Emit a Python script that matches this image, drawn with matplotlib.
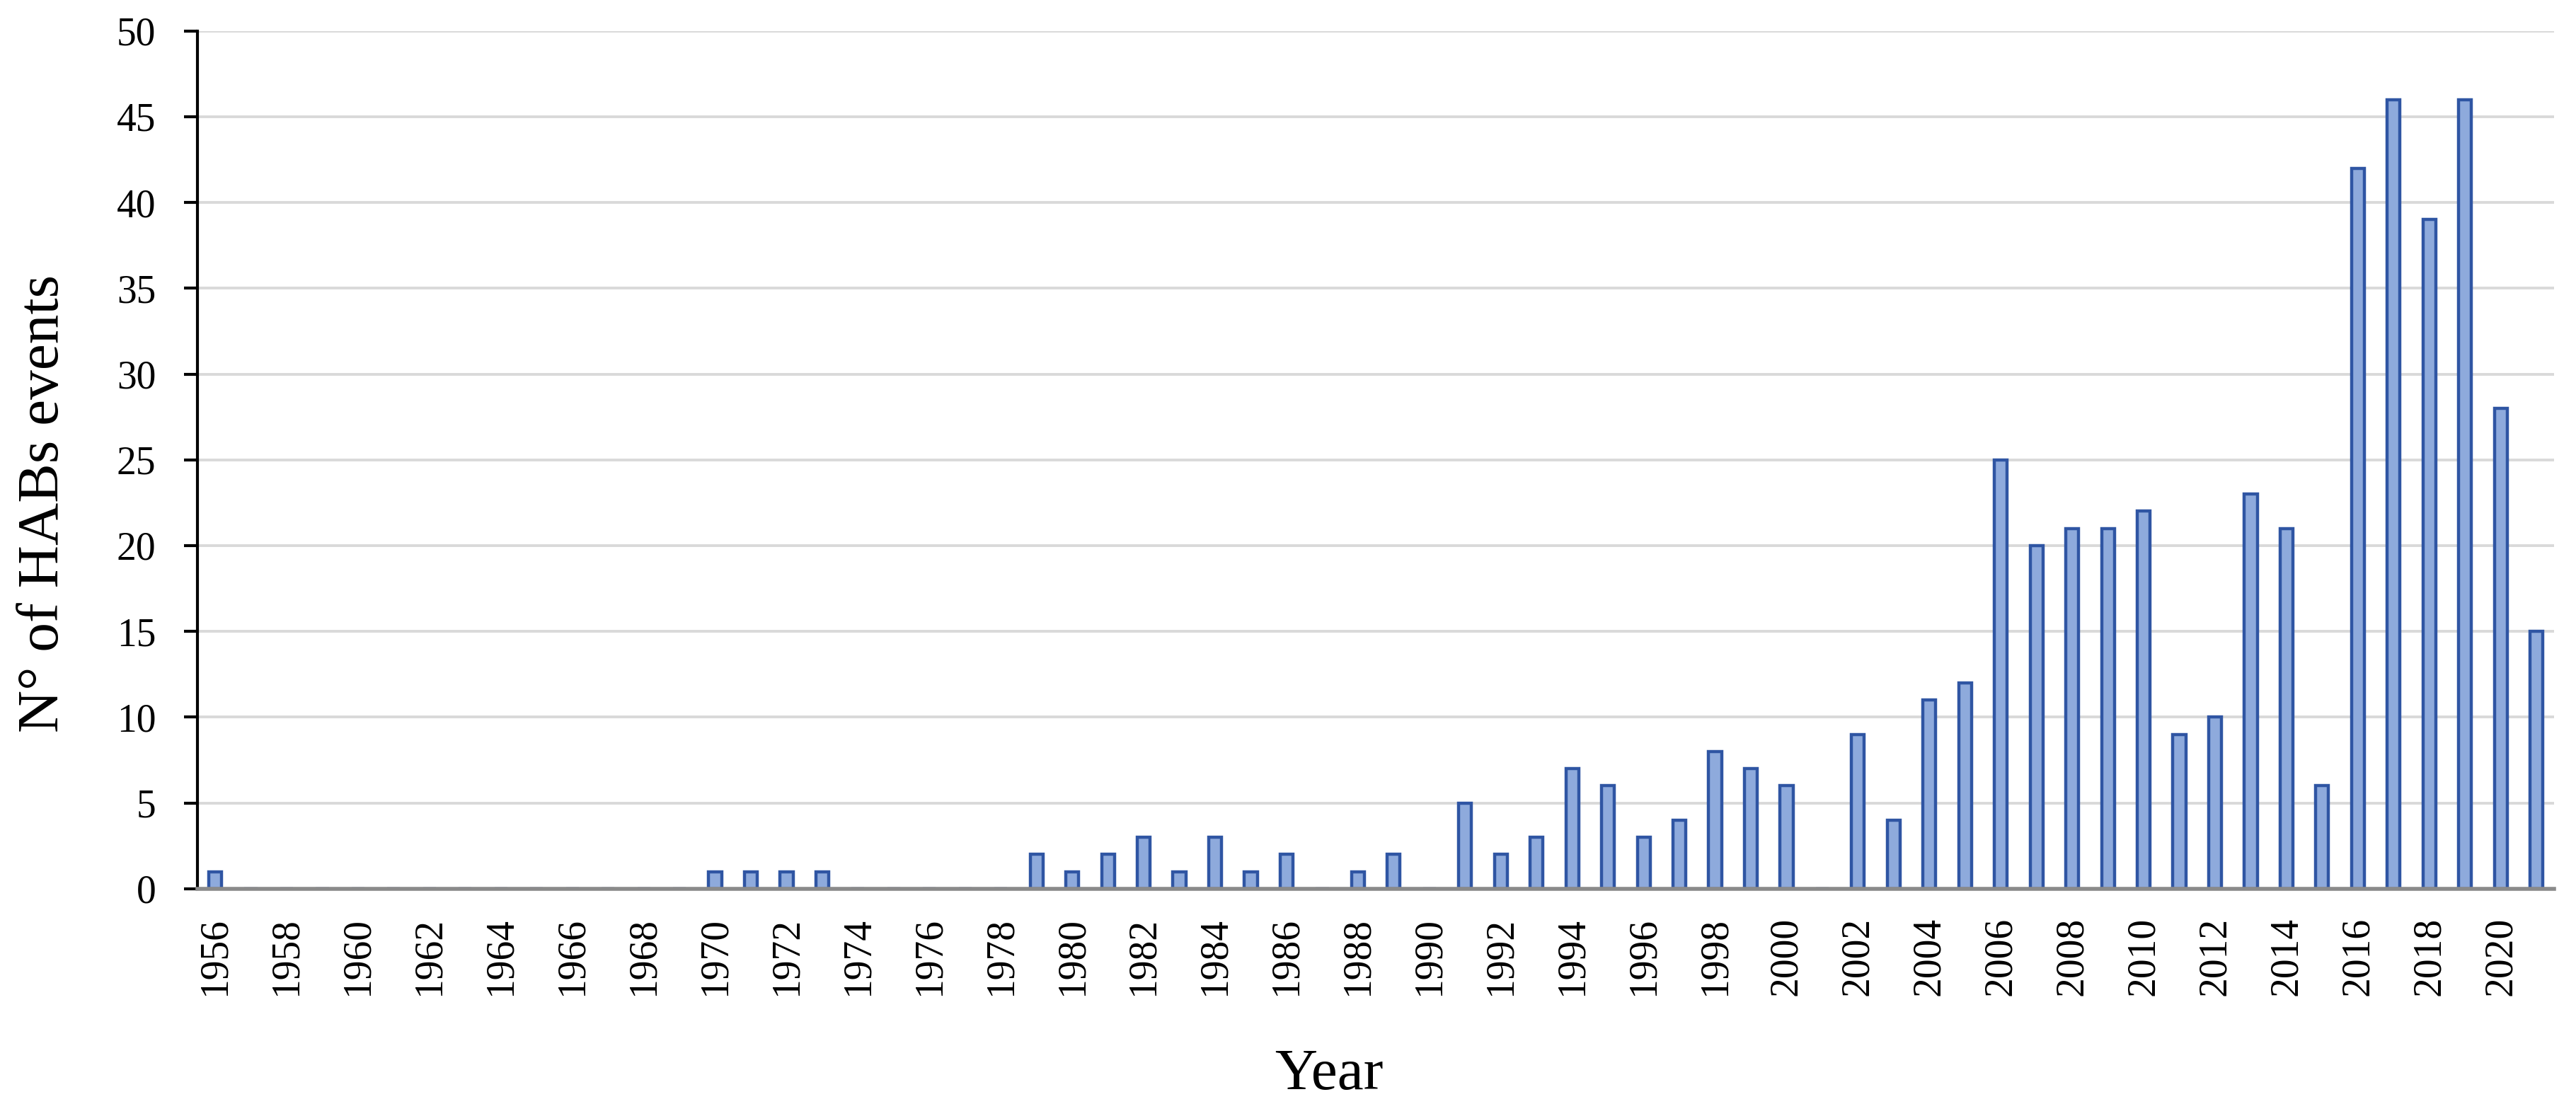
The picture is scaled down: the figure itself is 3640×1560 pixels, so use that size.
import numpy as np
import matplotlib.pyplot as plt

# HAB events per year
years = list(range(1956, 2022))
events = [1, 0, 0, 0, 0, 0, 0, 0, 0, 0, 0, 0, 0, 0,   # 1956-1969
          1, 1, 1, 1, 0, 0, 0, 0, 0,                   # 1970-1978
          2, 1, 2, 3, 1, 3, 1, 2, 0, 1, 2,             # 1979-1989
          0, 5, 2, 3, 7, 6, 3, 4, 8, 7, 6,             # 1990-2000
          0, 9, 4, 11, 12, 25, 20, 21, 21, 22,         # 2001-2010
          9, 10, 23, 21, 6, 42, 46, 39, 46, 28, 15]    # 2011-2021
tick_years = [y for y in years if y % 2 == 0]

plt.rcParams['font.family'] = ['Liberation Serif', 'DejaVu Serif']

fig = plt.figure(figsize=(36.4, 15.6), dpi=100)
ax = fig.add_axes([0.0766, 0.195, 0.915, 0.777])

x = np.arange(len(years))
ax.bar(x, events, width=0.36, color='#8eaadc', edgecolor='#2f55a3', linewidth=3.2, zorder=3)

ax.set_xlim(-0.5, len(years) - 0.5)
ax.set_ylim(0, 50)
ax.set_yticks(np.arange(0, 51, 5))
ax.yaxis.grid(True, color='#d9d9d9', linewidth=2.8, zorder=0)
ax.set_axisbelow(True)

ax.set_xticks([years.index(y) for y in tick_years])
ax.set_xticklabels([str(y) for y in tick_years], rotation=90, fontsize=40)
ax.tick_params(axis='x', length=0, pad=29)
ax.tick_params(axis='y', labelsize=40, length=14, width=3, direction='out', pad=28, color='black')

for s in ['top', 'right']:
    ax.spines[s].set_visible(False)
ax.spines['left'].set_linewidth(3)
ax.spines['left'].set_color('black')
ax.spines['bottom'].set_linewidth(4)
ax.spines['bottom'].set_color('#8a8a8a')
ax.spines['bottom'].set_zorder(4)

ax.set_ylabel("N° of HABs events", fontsize=60)
ax.set_xlabel("Year", fontsize=60)
ax.yaxis.label.set_va('baseline')
ax.xaxis.label.set_va('baseline')
ax.yaxis.set_label_coords(-0.059, 0.449)
ax.xaxis.set_label_coords(0.48, -0.234)

plt.savefig("out.png", dpi=100)
plt.close("all")
